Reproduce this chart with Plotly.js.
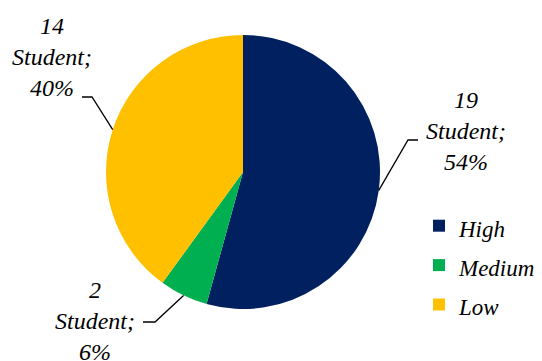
<!DOCTYPE html>
<html><head><meta charset="utf-8">
<script src="https://cdn.plot.ly/plotly-3.0.1.min.js"></script>
<style>
html,body{margin:0;padding:0;background:#fff}
#chart svg text, #chart svg text tspan {
  font-family: 'Liberation Serif', 'Times New Roman', serif !important;
  font-style: italic !important;
  fill: #000000 !important;
}
</style>
</head><body>
<div id="chart" style="width:542px;height:361px"></div>
<script>
const categories = ['High', 'Medium', 'Low'];
const students = [19, 2, 14];
const colors = ['#002060', '#00B050', '#FFC000'];

const W = 542, H = 361;
const FONT = "'Liberation Serif', 'Times New Roman', serif";
// pie geometry (pixels)
const pieCx = 243, pieCy = 172, pieR = 137;
// label placement (pixels): text centre, elbow, end of leader
const labelLayout = [
  {tx: 466, ty: 131, ex: 408, ey: 140, hx: 418},
  {tx: 95, ty: 321, ex: 155, ey: 322, hx: 143},
  {tx: 52, ty: 57, ex: 92, ey: 97, hx: 82}
];

const total = students.reduce((a, b) => a + b, 0);
const annotations = [];
const shapes = [];
let cum = 0;
students.forEach((v, i) => {
  const th = 2 * Math.PI * (cum + v / 2) / total;
  cum += v;
  const px = pieCx + pieR * Math.sin(th);
  const py = pieCy - pieR * Math.cos(th);
  const L = labelLayout[i];
  const pct = Math.round(v / total * 100);
  annotations.push({
    xref: 'x', yref: 'y', x: L.tx, y: L.ty, showarrow: false,
    text: v + '<br>Student;<br>' + pct + '%',
    font: {family: FONT, size: 24, style: 'italic'},
    xanchor: 'center', yanchor: 'middle', align: 'center'
  });
  shapes.push({
    type: 'path', xref: 'x', yref: 'y',
    path: `M ${px} ${py} L ${L.ex} ${L.ey} L ${L.hx} ${L.ey}`,
    line: {color: '#000', width: 1.3}
  });
});

const trace = {
  type: 'pie',
  labels: categories.map(c => `<span style="font-size:23px">${c}</span>`),
  values: students,
  sort: false,
  direction: 'clockwise',
  rotation: 0,
  textinfo: 'none',
  hoverinfo: 'skip',
  marker: {colors: colors, line: {width: 0}},
  domain: {
    x: [(pieCx - pieR) / W, (pieCx + pieR) / W],
    y: [1 - (pieCy + pieR) / H, 1 - (pieCy - pieR) / H]
  }
};

const layout = {
  width: W, height: H,
  margin: {l: 0, r: 0, t: 0, b: 0, autoexpand: false},
  paper_bgcolor: '#fff', plot_bgcolor: 'rgba(0,0,0,0)',
  font: {family: FONT},
  showlegend: true,
  legend: {
    x: 419 / W, y: 1 - 201 / H, xanchor: 'left', yanchor: 'top',
    font: {family: FONT, size: 28, style: 'italic'},
    bgcolor: 'rgba(0,0,0,0)', borderwidth: 0
  },
  xaxis: {range: [0, W], visible: false, fixedrange: true},
  yaxis: {range: [H, 0], visible: false, fixedrange: true},
  annotations: annotations,
  shapes: shapes
};

Plotly.newPlot('chart', [trace], layout, {staticPlot: true}).then(gd => {
  gd.querySelectorAll('svg text').forEach(t => {
    t.style.setProperty('font-family', "'Liberation Serif', 'Times New Roman', serif", 'important');
    t.style.setProperty('font-style', 'italic', 'important');
    t.style.setProperty('fill', '#000000', 'important');
  });
});
</script>
</body></html>
